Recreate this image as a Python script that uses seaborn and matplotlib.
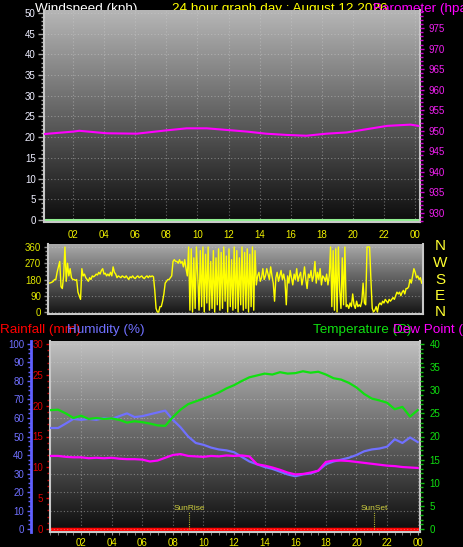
import numpy as np
import pandas as pd
import matplotlib
matplotlib.use('Agg')
import matplotlib.pyplot as plt
from matplotlib.colors import LinearSegmentedColormap
from matplotlib.ticker import MultipleLocator, FixedLocator, FixedFormatter
import seaborn as sns

plt.rcParams['font.family'] = ['Liberation Sans', 'DejaVu Sans']

# ---------------- data ----------------
hour_ticks = [2, 4, 6, 8, 10, 12, 14, 16, 18, 20, 22, 24]
hour_labels = ['02', '04', '06', '08', '10', '12', '14', '16', '18', '20', '22', '00']

wind_hours = [0.1, 2, 4, 6, 8, 10, 12, 14, 16, 18, 20, 22, 24.2]
windspeed = [0, 0, 0, 0, 0, 0, 0, 0, 0, 0, 0, 0, 0]

baro_hours = [0.1, 2.0, 2.4, 4.16, 6.1, 8.0, 9.3, 10.6, 11.9, 13.2, 14.4, 15.7,
              17.0, 18.3, 19.6, 20.9, 22.2, 23.7, 24.2]
barometer = [949.2, 949.8, 950.0, 949.4, 949.3, 950.1, 950.6, 950.6, 950.2, 949.8,
             949.3, 949.0, 948.8, 949.3, 949.6, 950.4, 951.2, 951.5, 951.2]

wind_dir = [
    160, 160, 162, 165, 170, 180, 180, 220, 250, 280, 140, 130,
    200, 360, 170, 270, 200, 240, 190, 180, 180, 175, 180, 110,
    90, 70, 240, 200, 210, 190, 180, 170, 190, 180, 200, 195,
    200, 210, 205, 220, 210, 230, 240, 210, 215, 200, 210, 200,
    220, 200, 250, 220, 210, 190, 200, 195, 190, 200, 195, 190,
    200, 190, 180, 195, 190, 200, 190, 185, 195, 200, 190, 195,
    200, 190, 185, 195, 200, 190, 200, 195, 200, 195, 120, 20,
    0, 0, 30, 30, 60, 100, 160, 170, 180, 180, 190, 200,
    280, 290, 280, 280, 270, 290, 270, 280, 250, 290, 240, 200,
    360, 10, 350, 0, 300, 20, 360, 200, 10, 340, 30, 360,
    0, 320, 50, 360, 10, 280, 20, 340, 0, 300, 40, 350,
    10, 330, 20, 360, 60, 310, 0, 350, 30, 290, 10, 360,
    20, 340, 0, 300, 40, 360, 10, 330, 20, 350, 0, 320,
    30, 360, 10, 340, 150, 200, 220, 170, 190, 240, 180, 200,
    240, 210, 180, 250, 200, 160, 60, 190, 220, 170, 200, 230,
    180, 210, 170, 40, 200, 160, 230, 190, 150, 210, 180, 240,
    170, 200, 220, 150, 190, 250, 180, 130, 210, 190, 230, 170,
    200, 280, 160, 220, 180, 240, 150, 200, 190, 170, 210, 150,
    200, 360, 30, 340, 10, 350, 0, 360, 120, 20, 300, 40,
    360, 30, 40, 20, 50, 30, 100, 40, 20, 60, 30, 40,
    30, 60, 160, 50, 40, 360, 360, 360, 180, 20, 0, 10,
    30, 0, 40, 50, 40, 60, 50, 70, 60, 50, 70, 60,
    70, 80, 70, 90, 110, 100, 110, 90, 110, 120, 100, 130,
    130, 140, 180, 160, 200, 240, 220, 190, 200, 180, 190, 160,
]
dir_hours = np.arange(len(wind_dir)) * 5 / 60.0
dir_labels = ['N', 'W', 'S', 'E', 'N']

half_hours = np.arange(49) * 0.5
temperature = [25.7, 25.8, 25.0, 24.0, 24.5, 23.8, 24.0, 23.8, 23.9, 23.6, 23.0, 23.3,
               23.1, 22.8, 22.4, 22.3, 24.2, 25.8, 27.0, 27.6, 28.2, 28.8, 29.5, 30.4,
               31.1, 32.0, 32.8, 33.2, 33.6, 33.4, 33.9, 33.6, 33.7, 34.1, 33.8, 34.0,
               33.4, 32.6, 32.3, 31.6, 30.6, 29.2, 28.2, 27.8, 27.3, 25.9, 26.4, 24.3, 25.7]
humidity = [54.6, 54.6, 57, 59.5, 59, 59.5, 59, 60, 59.5, 61, 62.5, 60.5,
            61, 62, 63, 64, 59, 55, 50, 46.5, 45.5, 44, 43, 42.5,
            41.5, 39, 36.5, 35, 33.5, 32.5, 31, 29.5, 28.5, 29.5, 30, 31.5,
            35, 36.5, 37.5, 38.5, 40, 42, 43, 43.5, 44.5, 48.5, 46.5, 49.5, 47]
dewpoint = [15.8, 15.8, 15.6, 15.5, 15.5, 15.3, 15.4, 15.3, 15.4, 15.2, 15.1, 15.1,
            15.0, 14.6, 14.8, 15.4, 16.0, 16.2, 15.8, 15.7, 15.6, 15.8, 15.7, 15.9,
            15.8, 15.9, 15.7, 14.0, 13.7, 13.3, 12.8, 12.2, 11.8, 11.9, 12.2, 12.6,
            14.5, 14.8, 14.8, 14.7, 14.5, 14.3, 14.1, 13.9, 13.7, 13.6, 13.4, 13.3, 13.2]
rain_hours = [0, 6, 12, 18, 24.2]
rainfall = [0, 0, 0, 0, 0]

sun_times = [9.05, 21.14]
sun_labels = ['SunRise', 'SunSet']

# ---------------- figure ----------------
W, H = 464, 547
fig = plt.figure(figsize=(W / 100, H / 100), dpi=100, facecolor='black')


def px_axes(left, top, right, bottom):
    return fig.add_axes([left / W, 1 - bottom / H, (right - left) / W, (bottom - top) / H])


def add_gradient(ax, top_col, bot_col):
    cmap = LinearSegmentedColormap.from_list('g', [bot_col, top_col])
    g = np.linspace(0, 1, 256).reshape(-1, 1)
    ax.imshow(g, cmap=cmap, aspect='auto', extent=[0, 1, 0, 1], transform=ax.transAxes,
              origin='lower', zorder=0, interpolation='bilinear')


def frame(ax, col='#c8c8c8'):
    ax.spines['top'].set_visible(False)
    for s in ['left', 'bottom', 'right']:
        ax.spines[s].set_color(col)
        ax.spines[s].set_linewidth(1.5)


grid_kw = dict(color='#d0d0d0', alpha=0.45, linewidth=0.8, linestyle=(0, (1, 2)))
XL_COLOR = '#f0f000'

# ---- top panel: windspeed + barometer ----
ax1 = px_axes(44, 10, 420, 222)
ax1.set_facecolor('black')
add_gradient(ax1, '#b6b6b6', '#0c0c0c')
sns.lineplot(x=wind_hours, y=windspeed, ax=ax1, color='#90ee90', linewidth=1.5)
ax1.set_xlim(0.13, 24.31)
ax1.set_ylim(-0.5, 50.7)
ax1.yaxis.set_major_locator(MultipleLocator(5))
ax1.yaxis.set_minor_locator(MultipleLocator(1))
ax1.xaxis.set_major_locator(FixedLocator(hour_ticks))
ax1.xaxis.set_major_formatter(FixedFormatter(hour_labels))
ax1.xaxis.set_minor_locator(MultipleLocator(0.5))
ax1.tick_params(axis='y', which='major', colors='#a8a8a8', labelcolor='#eeeeff',
                labelsize=7, length=4, width=1, pad=2)
ax1.tick_params(axis='y', which='minor', colors='#a8a8a8', length=2, width=1)
ax1.tick_params(axis='x', which='both', direction='in', colors='#909090',
                labelcolor=XL_COLOR, labelsize=7, length=2, pad=6)
ax1.grid(True, which='major', **grid_kw)
frame(ax1)
ax1.set_xlabel('')
ax1.set_ylabel('')

ax1b = ax1.twinx()
sns.lineplot(x=baro_hours, y=barometer, ax=ax1b, color='#ff00ff', linewidth=1.5)
ax1b.set_xlim(0.13, 24.31)
ax1b.set_ylim(927.8, 979.4)
ax1b.yaxis.set_major_locator(MultipleLocator(5))
ax1b.yaxis.set_minor_locator(MultipleLocator(1))
ax1b.tick_params(axis='y', which='major', colors='#d000d0', labelcolor='#f020f0',
                 labelsize=7, length=3, width=1, pad=3)
ax1b.tick_params(axis='y', which='minor', colors='#d000d0', length=2, width=1)
for s in ax1b.spines.values():
    s.set_visible(False)
ax1b.set_ylabel('')

# ---- middle panel: wind direction ----
ax2 = px_axes(48, 244, 423, 314)
ax2.set_facecolor('black')
add_gradient(ax2, '#aaaaaa', '#141414')
sns.lineplot(x=dir_hours, y=wind_dir, ax=ax2, color='#ffff00', linewidth=1.0)
ax2.set_xlim(0, 24)
ax2.set_ylim(-11, 376.6)
ax2.yaxis.set_major_locator(FixedLocator([0, 90, 180, 270, 360]))
ax2.yaxis.set_minor_locator(MultipleLocator(22.5))
ax2.tick_params(axis='y', which='major', colors='#909090', labelcolor='#e0e800',
                labelsize=7, length=3, width=1, pad=2)
ax2.tick_params(axis='y', which='minor', colors='#909090', length=2, width=1)
ax2.set_xticks([])
ax2.grid(True, axis='y', which='major', **grid_kw)
frame(ax2)
ax2.set_xlabel('')
ax2.set_ylabel('')
for lab, yy in zip(dir_labels, [246, 263, 280, 296, 312]):
    fig.text(440 / W, 1 - yy / H, lab, color='#ffff30', fontsize=11,
             ha='center', va='center')

# ---- bottom panel: rainfall, humidity, temperature, dew point ----
ax3 = px_axes(50, 341, 420, 532)
ax3.set_facecolor('black')
add_gradient(ax3, '#c0c0c0', '#0c0c0c')
sns.lineplot(x=rain_hours, y=rainfall, ax=ax3, color='#ff0000', linewidth=2.5)
ax3.set_xlim(-0.03, 24.15)
ax3.set_ylim(-0.49, 30.49)
ax3.yaxis.set_major_locator(MultipleLocator(5))
ax3.yaxis.set_minor_locator(MultipleLocator(1))
ax3.xaxis.set_major_locator(FixedLocator(hour_ticks))
ax3.xaxis.set_major_formatter(FixedFormatter(hour_labels))
ax3.xaxis.set_minor_locator(MultipleLocator(0.5))
ax3.tick_params(axis='y', which='major', colors='#e00000', labelcolor='#e00000',
                labelsize=7, length=3, width=1, pad=2)
ax3.tick_params(axis='y', which='minor', colors='#c00000', length=2, width=1)
ax3.tick_params(axis='x', which='both', direction='out', colors='#909090',
                labelcolor=XL_COLOR, labelsize=7, length=2, pad=2)
for t, lab in zip(sun_times, sun_labels):
    ax3.vlines(t, 0, 2.8, color='#b0b030', linewidth=0.8, linestyles=(0, (1, 1)))
    ax3.text(t, 3.3, lab, color='#d0d040', fontsize=6, ha='center', va='center')
frame(ax3)
ax3.set_xlabel('')
ax3.set_ylabel('')

ax3h = ax3.twinx()
sns.lineplot(x=half_hours, y=humidity, ax=ax3h, color='#7070ff', linewidth=1.6)
ax3h.set_xlim(-0.03, 24.15)
ax3h.set_ylim(-1.62, 101.62)
ax3h.yaxis.set_ticks_position('left')
ax3h.yaxis.set_label_position('left')
for s in ax3h.spines.values():
    s.set_visible(False)
ax3h.spines['left'].set_visible(True)
ax3h.spines['left'].set_position(('outward', 13.7))
ax3h.spines['left'].set_color('#6060ff')
ax3h.spines['left'].set_linewidth(2)
ax3h.yaxis.set_major_locator(MultipleLocator(10))
ax3h.yaxis.set_minor_locator(MultipleLocator(2.5))
ax3h.tick_params(axis='y', which='major', colors='#6060ff', labelcolor='#7070ff',
                 labelsize=7, length=3, width=1, pad=2)
ax3h.tick_params(axis='y', which='minor', colors='#6060ff', length=2, width=1)
ax3h.grid(True, axis='y', which='major', **grid_kw)
ax3h.set_ylabel('')

ax3t = ax3.twinx()
sns.lineplot(x=half_hours, y=temperature, ax=ax3t, color='#10e010', linewidth=1.6)
sns.lineplot(x=half_hours, y=dewpoint, ax=ax3t, color='#ff00ff', linewidth=1.6)
ax3t.set_xlim(-0.03, 24.15)
ax3t.set_ylim(-0.65, 40.65)
for s in ax3t.spines.values():
    s.set_visible(False)
ax3t.yaxis.set_major_locator(MultipleLocator(5))
ax3t.yaxis.set_minor_locator(MultipleLocator(1))
ax3t.tick_params(axis='y', which='major', colors='#10c010', labelcolor='#10e010',
                 labelsize=7, length=3, width=1, pad=4)
ax3t.tick_params(axis='y', which='minor', colors='#10c010', length=2, width=1)
ax3t.set_ylabel('')
ax3.grid(True, axis='x', which='major', **grid_kw)

# ---- titles ----
TFS = 9.7
fig.text(35 / W, 1 - 3 / H, 'Windspeed (kph)', color='white', fontsize=TFS,
         ha='left', va='top', zorder=-1)
fig.text(172 / W, 1 - 3 / H, '24 hour graph day : August 12 2026', color='#ffff00',
         fontsize=TFS, ha='left', va='top', zorder=-1)
fig.text(373 / W, 1 - 3 / H, 'Barometer (hpa)', color='#ff00ff', fontsize=TFS,
         ha='left', va='top', zorder=-1)
fig.text(0 / W, 1 - 330 / H, 'Rainfall (mm)', color='#ff0000', fontsize=TFS,
         ha='left', va='center')
fig.text(67 / W, 1 - 330 / H, 'Humidity (%)', color='#7070ff', fontsize=TFS,
         ha='left', va='center')
fig.text(313 / W, 1 - 330 / H, 'Temperature (C)', color='#10e010', fontsize=TFS,
         ha='left', va='center')
fig.text(393 / W, 1 - 330 / H, 'Dew Point (°C)', color='#ff00ff', fontsize=TFS,
         ha='left', va='center')

fig.savefig('out.png', dpi=100, facecolor='black')
